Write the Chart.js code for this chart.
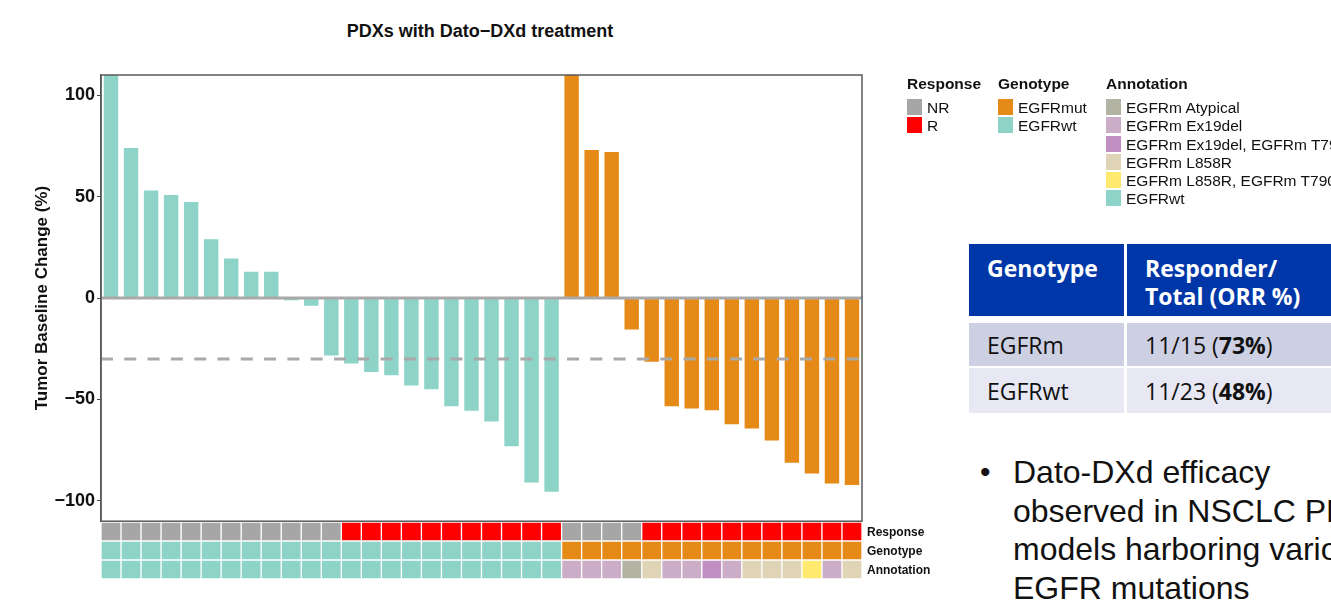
<!DOCTYPE html>
<html>
<head>
<meta charset="utf-8">
<script src="https://cdn.jsdelivr.net/npm/chart.js@4.4.1/dist/chart.umd.min.js"></script>
<style>
  html, body { margin: 0; padding: 0; background: #fff; width: 1331px; height: 600px; overflow: hidden; }
  body { position: relative; font-family: Arial, "Liberation Sans", sans-serif; }
  #chartTitle { position: absolute; left: 280px; width: 400px; top: 20px; text-align: center;
                font-size: 18px; font-weight: bold; line-height: 22px; color: #111; }
  #waterfallBox { position: absolute; left: 0; top: 0; width: 960px; height: 534px; }
  #trackBox { position: absolute; left: 0; top: 520px; width: 960px; height: 62px; }
  .trk { position: absolute; left: 867px; font-size: 12px; font-weight: bold; color: #111; line-height: 14px; }
  .lg { position: absolute; font-size: 15.5px; color: #111; }
  .lg h4 { margin: 0 0 7px 0; font-size: 15.5px; font-weight: bold; line-height: 17px; }
  .lg .row { height: 18.3px; line-height: 17px; white-space: nowrap; }
  .lg .sw { display: inline-block; width: 15px; height: 16px; vertical-align: top; margin-right: 5px; }
  #orr { position: absolute; left: 969px; top: 244px; width: 430px; table-layout: fixed;
         border-collapse: separate; border-spacing: 0;
         font-family: "Open Sans", "Noto Sans", sans-serif; font-size: 23px; }
  #orr td { padding: 0 0 0 18px; vertical-align: middle; white-space: nowrap; overflow: hidden; }
  #orr .hd td { background: #0037a8; color: #fff; font-weight: bold; height: 72px; line-height: 28px;
                vertical-align: top; padding-top: 10px; box-sizing: border-box; }
  #orr .r1 td { background: #cdd0e2; color: #111; height: 43px; }
  #orr .r2 td { background: #e7e8f3; color: #111; height: 45px; }
  #orr .c1 { width: 158px; border-right: 3px solid #fff; box-sizing: border-box; }
  #orr .gap td { height: 7px; padding: 0; background: #fff; }
  #orr .gap2 td { height: 2px; padding: 0; background: #fff; }
  #bullet { position: absolute; left: 980px; top: 453px; font-size: 32px; line-height: 38.5px; color: #111; white-space: nowrap; }
  #bullet .dot { position: absolute; left: 0; top: 0; font-size: 30px; }
  #bullet .txt { position: absolute; left: 33px; top: 0; }
</style>
</head>
<body>

<div id="chartTitle">PDXs with Dato&minus;DXd treatment</div>
<div id="waterfallBox"><canvas id="waterfallChart"></canvas></div>
<div id="trackBox"><canvas id="trackChart"></canvas></div>
<div id="trackLabels"></div>

<div class="lg" style="left:907px; top:75px;">
  <h4>Response</h4>
  <div id="legResponse"></div>
</div>
<div class="lg" style="left:998px; top:75px;">
  <h4>Genotype</h4>
  <div id="legGenotype"></div>
</div>
<div class="lg" style="left:1106px; top:75px;">
  <h4>Annotation</h4>
  <div id="legAnnotation"></div>
</div>

<table id="orr">
  <tr class="hd"><td class="c1">Genotype</td><td class="c2">Responder/<br>Total (ORR %)</td></tr>
  <tr class="gap"><td></td><td></td></tr>
  <tr class="r1"><td class="c1">EGFRm</td><td class="c2">11/15 (<b>73%</b>)</td></tr>
  <tr class="gap2"><td></td><td></td></tr>
  <tr class="r2"><td class="c1">EGFRwt</td><td class="c2">11/23 (<b>48%</b>)</td></tr>
</table>

<div id="bullet">
  <span class="dot">•</span>
  <div class="txt">Dato-DXd efficacy<br>observed in NSCLC PDX<br>models harboring various<br>EGFR mutations</div>
</div>

<script>
// PDX waterfall: Dato-DXd treatment

// Tumor baseline change (%) per PDX model, ordered as in the plot
const wtChange = [118, 74, 53, 50.8, 47.4, 29, 19.5, 13, 13, -1, -3.8, -28.3,
                  -32.3, -36.4, -38, -43.1, -45, -53.3, -55.6, -60.8, -73, -90.9, -95.5];
const mutChange = [118, 73, 72, -15.5, -31.4, -53.3, -54.4, -55.3, -62.2, -64.3,
                   -70.2, -81.2, -86.5, -91.4, -92.2];

const wtResponse = ['NR','NR','NR','NR','NR','NR','NR','NR','NR','NR','NR','NR',
                    'R','R','R','R','R','R','R','R','R','R','R'];
const mutResponse = ['NR','NR','NR','NR','R','R','R','R','R','R','R','R','R','R','R'];

const mutAnnotation = ['EGFRm Ex19del','EGFRm Ex19del','EGFRm Ex19del','EGFRm Atypical','EGFRm L858R',
                       'EGFRm Ex19del','EGFRm Ex19del','EGFRm Ex19del, EGFRm T790M','EGFRm Ex19del',
                       'EGFRm L858R','EGFRm L858R','EGFRm L858R','EGFRm L858R, EGFRm T790M',
                       'EGFRm Ex19del','EGFRm L858R'];

const yTicks = [100, 50, 0, -50, -100];
const threshold = -30;
const trackNames = ['Response', 'Genotype', 'Annotation'];

const responseColors = { 'NR': '#a6a6a6', 'R': '#ff0000' };
const genotypeColors = { 'EGFRmut': '#e68a17', 'EGFRwt': '#8dd3c7' };
const annotationColors = {
    'EGFRm Atypical': '#b3b3a3',
    'EGFRm Ex19del': '#cbadc8',
    'EGFRm Ex19del, EGFRm T790M': '#c28fc3',
    'EGFRm L858R': '#dfd5b6',
    'EGFRm L858R, EGFRm T790M': '#ffe96e',
    'EGFRwt': '#8dd3c7'
};

// combined series
const changes = wtChange.concat(mutChange);
const responses = wtResponse.concat(mutResponse);
const genotypes = wtChange.map(() => 'EGFRwt').concat(mutChange.map(() => 'EGFRmut'));
const annotations = wtChange.map(() => 'EGFRwt').concat(mutAnnotation);
const labels = changes.map((v, i) => 'PDX' + (i + 1));

const PLOT_LEFT = 101;
const TITLE_PAD = 32;
const PLOT_RIGHT_PAD = 98;

// frame, zero line and -30% threshold
const refLinesPlugin = {
    id: 'refLines',
    afterDatasetsDraw(chart) {
        const ctx = chart.ctx;
        const area = chart.chartArea;
        const y = chart.scales.y;
        ctx.save();
        ctx.lineWidth = 3;
        ctx.strokeStyle = '#a9a9a9';
        const y0 = y.getPixelForValue(0);
        ctx.beginPath();
        ctx.moveTo(area.left, y0);
        ctx.lineTo(area.right, y0);
        ctx.stroke();
        ctx.setLineDash([12, 11.3]);
        const yT = y.getPixelForValue(threshold);
        ctx.beginPath();
        ctx.moveTo(area.left, yT);
        ctx.lineTo(area.right, yT);
        ctx.stroke();
        ctx.setLineDash([]);
        ctx.lineWidth = 1.5;
        ctx.strokeStyle = '#5a5a5a';
        ctx.strokeRect(area.left, area.top, area.right - area.left, area.bottom - area.top);
        ctx.restore();
    }
};

let waterfallChart, trackChart;

document.addEventListener('DOMContentLoaded', function() {
    try {
        waterfallChart = new Chart(document.getElementById('waterfallChart').getContext('2d'), {
            type: 'bar',
            data: {
                labels: labels,
                datasets: [{
                    data: changes,
                    backgroundColor: genotypes.map(g => genotypeColors[g]),
                    borderWidth: 0,
                    barPercentage: 0.72,
                    categoryPercentage: 1
                }]
            },
            options: {
                responsive: true,
                maintainAspectRatio: false,
                animation: false,
                layout: { padding: { left: TITLE_PAD, right: PLOT_RIGHT_PAD, top: 75, bottom: 0 } },
                plugins: {
                    legend: { display: false },
                    tooltip: { enabled: false }
                },
                scales: {
                    x: { display: false },
                    y: {
                        min: -110,
                        max: 110,
                        afterBuildTicks(scale) { scale.ticks = yTicks.map(v => ({ value: v })); },
                        afterFit(scale) { scale.width = PLOT_LEFT - TITLE_PAD; },
                        ticks: {
                            color: '#111',
                            font: { family: 'Arial', size: 18, weight: 'bold' },
                            padding: 2,
                            callback: v => String(v).replace('-', '\u2212')
                        },
                        grid: { drawOnChartArea: false, drawTicks: true, tickLength: 4, color: '#444' },
                        border: { display: true, color: '#5a5a5a', width: 1.5 },
                        title: {
                            display: true,
                            text: 'Tumor Baseline Change (%)',
                            color: '#111',
                            font: { family: 'Arial', size: 17, weight: 'bold' },
                            padding: { top: 0, bottom: 0 }
                        }
                    }
                }
            },
            plugins: [refLinesPlugin]
        });

        // annotation tracks below the waterfall
        const trackSets = [responses.map(r => responseColors[r]),
                           genotypes.map(g => genotypeColors[g]),
                           annotations.map(a => annotationColors[a])];
        trackChart = new Chart(document.getElementById('trackChart').getContext('2d'), {
            type: 'bar',
            data: {
                labels: labels,
                datasets: trackSets.map((colors, k) => ({
                    data: labels.map(() => [k, k + 1]),
                    backgroundColor: colors,
                    borderColor: '#ffffff',
                    borderWidth: 1,
                    borderSkipped: false,
                    barPercentage: 1,
                    categoryPercentage: 1,
                    grouped: false
                }))
            },
            options: {
                responsive: true,
                maintainAspectRatio: false,
                animation: false,
                layout: { padding: { left: PLOT_LEFT, right: PLOT_RIGHT_PAD, top: 2, bottom: 3 } },
                plugins: { legend: { display: false }, tooltip: { enabled: false } },
                scales: {
                    x: { display: false },
                    y: { display: false, reverse: true, min: 0, max: 3 }
                }
            }
        });

        // track names next to each row, placed from the track chart's y scale
        const ys = trackChart.scales.y;
        const top = document.getElementById('trackBox').offsetTop;
        trackNames.forEach((name, k) => {
            const d = document.createElement('div');
            d.className = 'trk';
            d.textContent = name;
            d.style.top = (top + ys.getPixelForValue(k + 0.5) - 7) + 'px';
            document.getElementById('trackLabels').appendChild(d);
        });
    } catch (error) {
        console.error('Error drawing waterfall chart:', error);
    }

    // legend blocks
    const fillLegend = (id, colorMap) => {
        const box = document.getElementById(id);
        Object.keys(colorMap).forEach(name => {
            const row = document.createElement('div');
            row.className = 'row';
            row.innerHTML = '<span class="sw" style="background:' + colorMap[name] + '"></span>' + name;
            box.appendChild(row);
        });
    };
    fillLegend('legResponse', responseColors);
    fillLegend('legGenotype', genotypeColors);
    fillLegend('legAnnotation', annotationColors);
});
</script>
</body>
</html>
